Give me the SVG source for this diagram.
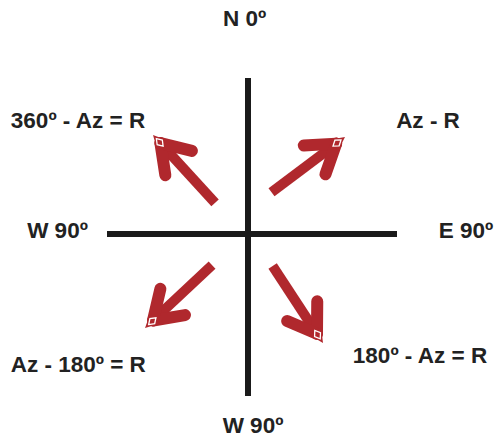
<svg xmlns="http://www.w3.org/2000/svg" width="496" height="446" viewBox="0 0 496 446">
<style>
.t{font-family:"Liberation Sans",Arial,sans-serif;font-weight:bold;font-size:22.5px;fill:#222;text-anchor:middle}
.ax{stroke:#1a1a1a;stroke-width:6;fill:none}
.shaft{stroke:#b0282d;stroke-width:10;fill:none}
.barb{stroke:#b0282d;stroke-width:12;stroke-linecap:round;fill:none}
.dia{stroke:#fff;stroke-width:1.3;fill:none}
</style>
<defs>
<g id="arrow">
<line class="shaft" x1="-92" y1="0" x2="-14" y2="0"/>
<line class="barb" x1="-11" y1="0" x2="-38" y2="-18"/>
<line class="barb" x1="-11" y1="0" x2="-38" y2="18"/>
<polygon points="0,0 -14,-7 -14,7" fill="#b0282d"/>
<polygon class="dia" points="-5,0 -10,-3.5 -15,0 -10,3.5"/>
</g>
</defs>
<g id="connectors">
<line class="ax" x1="248" y1="78" x2="248" y2="396"/>
<line class="ax" x1="107" y1="234" x2="397" y2="234"/>
</g>
<g id="arrow-nw"><use href="#arrow" transform="translate(153,135) rotate(-132.4)"/></g>
<g id="arrow-ne"><use href="#arrow" transform="translate(345,137) rotate(-37)"/></g>
<g id="arrow-sw"><use href="#arrow" transform="translate(145,328) rotate(136.8)"/></g>
<g id="arrow-se"><use href="#arrow" transform="translate(323,343) rotate(56.8)"/></g>
<g id="label-n"><text class="t" x="244.5" y="26">N 0º</text></g>
<g id="label-nw"><text class="t" x="78" y="128">360º - Az = R</text></g>
<g id="label-ne"><text class="t" x="428" y="128">Az - R</text></g>
<g id="label-w"><text class="t" x="57.5" y="238">W 90º</text></g>
<g id="label-e"><text class="t" x="466" y="238">E 90º</text></g>
<g id="label-sw"><text class="t" x="78.3" y="372">Az - 180º = R</text></g>
<g id="label-se"><text class="t" x="420" y="363">180º - Az = R</text></g>
<g id="label-s"><text class="t" x="253" y="433">W 90º</text></g>
</svg>
